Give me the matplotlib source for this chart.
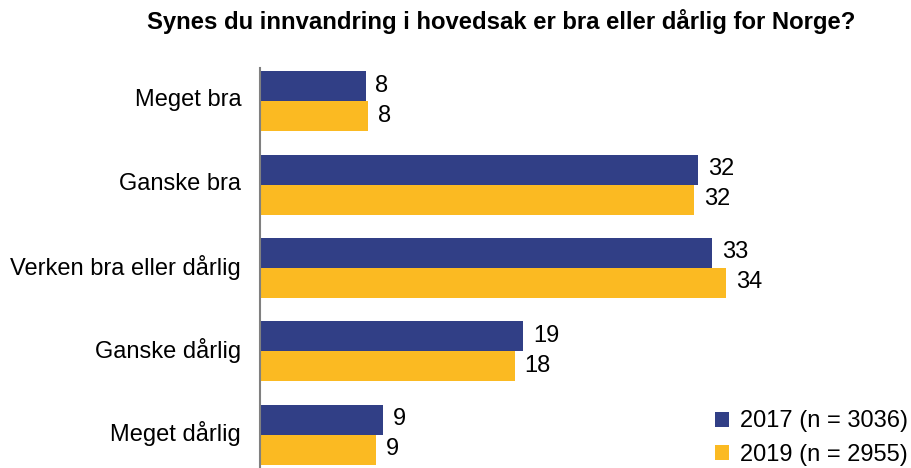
import matplotlib
matplotlib.use("Agg")
import matplotlib.pyplot as plt
import matplotlib.transforms as mtransforms
import numpy as np

plt.rcParams['font.family'] = ['Liberation Sans', 'DejaVu Sans']

categories = ["Meget bra", "Ganske bra", "Verken bra eller dårlig", "Ganske dårlig", "Meget dårlig"]
values_2017 = [7.7, 32.0, 33.0, 19.2, 9.0]
values_2019 = [7.9, 31.7, 34.0, 18.6, 8.5]
labels_2017 = ["8", "32", "33", "19", "9"]
labels_2019 = ["8", "32", "34", "18", "9"]
series_names = ["2017 (n = 3036)", "2019 (n = 2955)"]
title = "Synes du innvandring i hovedsak er bra eller dårlig for Norge?"

c17 = "#313F86"
c19 = "#FBBA22"

fig = plt.figure(figsize=(9.12, 4.68), dpi=100)
ax = fig.add_axes([260/912, 0, 644/912, 400/468])

y = np.arange(len(categories))
h = 0.36
b1 = ax.barh(y - h/2, values_2017, height=h, color=c17, label=series_names[0])
b2 = ax.barh(y + h/2, values_2019, height=h, color=c19, label=series_names[1])

for bars, labs in ((b1, labels_2017), (b2, labels_2019)):
    for bar, lab in zip(bars, labs):
        ax.annotate(lab, (bar.get_width(), bar.get_y() + bar.get_height()/2),
                    xytext=(7, 0.5), textcoords="offset points",
                    va="center", ha="left", fontsize=17, color="black")

ax.set_ylim(4.4, -0.4)
ax.set_xlim(0, 47)
ax.set_yticks(y)
ax.set_yticklabels(categories, fontsize=17)
ax.tick_params(axis='y', length=0, pad=13.5)
shift = mtransforms.ScaledTranslation(0, 3.5/100, fig.dpi_scale_trans)
for lbl in ax.get_yticklabels():
    lbl.set_transform(lbl.get_transform() + shift)
ax.set_xticks([])
for s in ("top", "right", "bottom"):
    ax.spines[s].set_visible(False)
ax.spines["left"].set_color("#808080")
ax.spines["left"].set_linewidth(1.5)

fig.text(501/912, 1 - 22/468, title, ha="center", va="center",
         fontsize=17.2, fontweight="bold")

ax.legend(loc="lower right", bbox_to_anchor=(1.024, -0.025), frameon=False,
          fontsize=17, handlelength=0.6, handleheight=0.6, handletextpad=0.45,
          labelspacing=0.5, borderaxespad=0.1)

fig.savefig("out.png", dpi=100)
